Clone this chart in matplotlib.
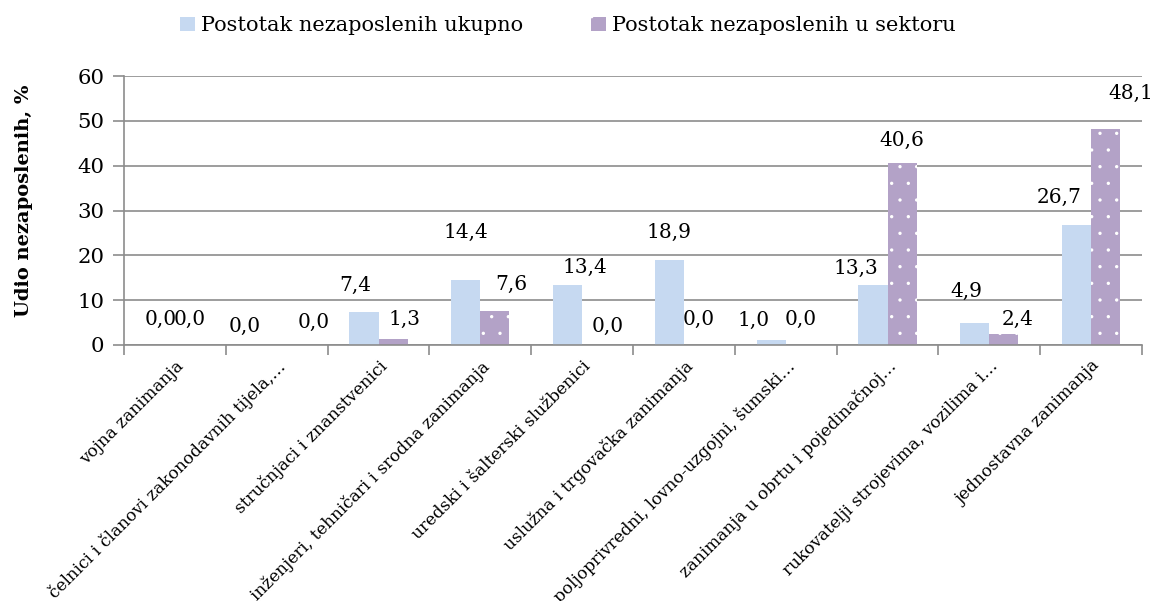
import matplotlib
matplotlib.use("Agg")
import matplotlib.pyplot as plt
import numpy as np

# Occupation groups and unemployment shares (%)
categories = [
    "vojna zanimanja",
    "čelnici i članovi zakonodavnih tijela,…",
    "stručnjaci i znanstvenici",
    "inženjeri, tehničari i srodna zanimanja",
    "uredski i šalterski službenici",
    "uslužna i trgovačka zanimanja",
    "poljoprivredni, lovno-uzgojni, šumski…",
    "zanimanja u obrtu i pojedinačnoj…",
    "rukovatelji strojevima, vozilima i…",
    "jednostavna zanimanja",
]
ukupno = [0.0, 0.0, 7.4, 14.4, 13.4, 18.9, 1.0, 13.3, 4.9, 26.7]
sektor = [0.0, 0.0, 1.3, 7.6, 0.0, 0.0, 0.0, 40.6, 2.4, 48.1]
series_names = ["Postotak nezaposlenih ukupno", "Postotak nezaposlenih u sektoru"]
y_ticks = [0, 10, 20, 30, 40, 50, 60]

# Data-label placement (x shift in category units, y in axis units)
lbl_dx_ukupno = [0.0, -0.17, -0.09, 0.0, 0.17, 0.0, -0.17, -0.17, -0.08, -0.17]
lbl_y_ukupno = [5.6, 4.2, 13.4, 25.2, 17.4, 25.2, 5.4, 17.0, 12.0, 33.0]
lbl_dx_sektor = [0.0, 0.22, 0.11, 0.16, 0.11, 0.0, 0.0, 0.0, 0.14, 0.25]
lbl_y_sektor = [5.6, 5.1, 5.6, 13.6, 4.2, 5.6, 5.8, 45.7, 5.6, 56.2]

FONT = "DejaVu Serif"
plt.rcParams["font.family"] = FONT
plt.rcParams["hatch.linewidth"] = 0.0

fig = plt.figure(figsize=(11.56, 6.01), dpi=100)
ax = fig.add_axes([0.1073, 0.426, 0.8806, 0.4475])

x = np.arange(len(categories))
w = 1 / 3.5
blue = "#C6D9F1"
purple = "#B3A2C7"
grid = "#8C8C8C"

b1 = ax.bar(x - w / 2, ukupno, w, color=blue, linewidth=0, label=series_names[0], zorder=2)
b2 = ax.bar(x + w / 2, sektor, w, color=purple, edgecolor="white", linewidth=0,
            hatch=".", label=series_names[1], zorder=2)

def fmt(v):
    return f"{v:.1f}".replace(".", ",")

for i in range(len(categories)):
    ax.text(x[i] - w / 2 + lbl_dx_ukupno[i], lbl_y_ukupno[i], fmt(ukupno[i]),
            ha="center", va="center", fontsize=14.5, zorder=3)
    ax.text(x[i] + w / 2 + lbl_dx_sektor[i], lbl_y_sektor[i], fmt(sektor[i]),
            ha="center", va="center", fontsize=14.5, zorder=3)

ax.set_xlim(-0.5, len(categories) - 0.5)
ax.set_ylim(0, 60)
ax.set_yticks(y_ticks)
ax.set_yticklabels([str(t) for t in y_ticks], fontsize=15.3)
ax.yaxis.grid(True, color=grid, linewidth=1.2, zorder=0)
ax.set_axisbelow(True)

ax.set_xticks(x)
ax.set_xticklabels(categories, rotation=45, ha="right", rotation_mode="anchor",
                   fontsize=12.2)
ax.tick_params(axis="x", which="major", length=0, pad=9)
ax.set_xticks(np.arange(-0.5, len(categories)), minor=True)
ax.tick_params(axis="x", which="minor", length=7, width=1.2, color=grid)
ax.tick_params(axis="y", length=8, width=1.2, color=grid, pad=6)

for s in ["top", "right"]:
    ax.spines[s].set_visible(False)
for s in ["left", "bottom"]:
    ax.spines[s].set_color(grid)
    ax.spines[s].set_linewidth(1.2)

ax.set_ylabel("Udio nezaposlenih, %", fontsize=14, fontweight="bold")
ax.yaxis.set_label_coords(-0.0894, 0.535)

fig.legend(handles=[b1, b2], loc="center", bbox_to_anchor=(0.491, 0.957), ncol=2,
           frameon=False, fontsize=15, handlelength=0.72, handleheight=0.72,
           handletextpad=0.3, columnspacing=3.25)

fig.savefig("out.png", dpi=100)
